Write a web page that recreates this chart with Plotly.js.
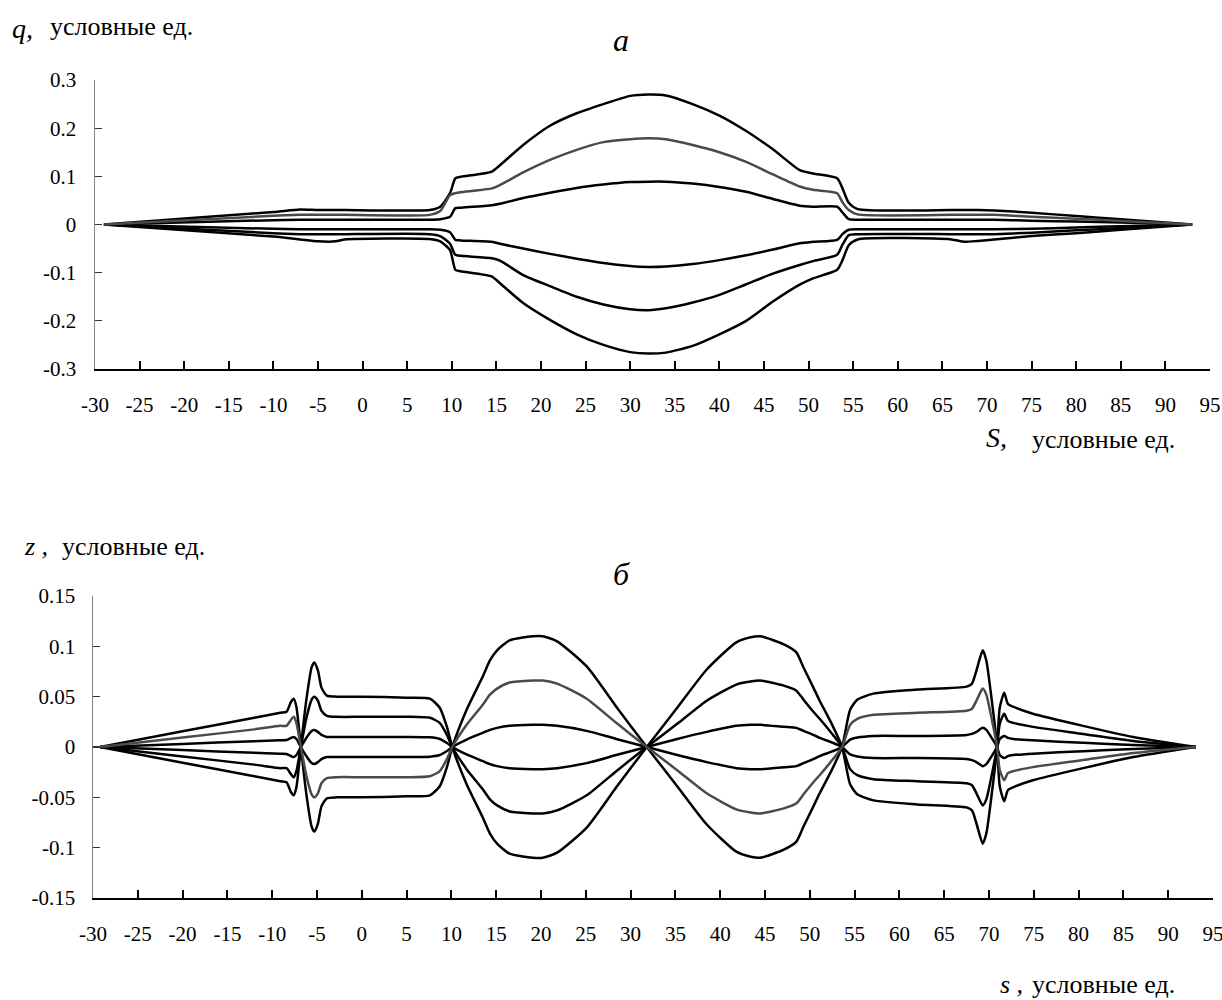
<!DOCTYPE html>
<html>
<head>
<meta charset="utf-8">
<script src="https://cdn.plot.ly/plotly-3.0.1.min.js"></script>
<style>
  html, body { margin: 0; padding: 0; background: #ffffff; }
  #chart { width: 1222px; height: 1000px; }
</style>
</head>
<body>
<div id="chart"></div>
<script>
// ---- panel "а": q(s), six profiles sampled on a common s grid ----
const S_Q = [-29, -10, -7, -5, -3, -2, 7.5, 8.7, 9.8, 10.4, 11, 14.5, 15.4, 18, 21, 24, 27, 30, 32, 34, 37, 40, 43, 46, 49, 50.5, 53.2, 53.8, 54.5, 55.5, 66, 67.5, 69, 70.8, 75, 80, 85, 93];

const Q1 = [0, 0.026, 0.031, 0.030, 0.030, 0.030, 0.030, 0.037, 0.065, 0.096, 0.099, 0.110, 0.123, 0.165, 0.205, 0.231, 0.250, 0.267, 0.270, 0.268, 0.250, 0.226, 0.194, 0.156, 0.113, 0.106, 0.096, 0.075, 0.045, 0.032, 0.030, 0.030, 0.030, 0.029, 0.0245, 0.0175, 0.011, 0];
const Q2 = [0, 0.018, 0.020, 0.020, 0.020, 0.020, 0.020, 0.028, 0.061, 0.065, 0.067, 0.075, 0.082, 0.108, 0.134, 0.155, 0.171, 0.177, 0.179, 0.177, 0.165, 0.150, 0.130, 0.104, 0.079, 0.072, 0.065, 0.046, 0.030, 0.021, 0.020, 0.020, 0.020, 0.020, 0.016, 0.012, 0.0075, 0];
const Q3 = [0, 0.009, 0.010, 0.010, 0.010, 0.010, 0.010, 0.011, 0.016, 0.034, 0.035, 0.040, 0.043, 0.055, 0.066, 0.076, 0.083, 0.088, 0.089, 0.089, 0.085, 0.078, 0.068, 0.053, 0.039, 0.037, 0.037, 0.025, 0.011, 0.010, 0.010, 0.010, 0.010, 0.010, 0.008, 0.006, 0.004, 0];
const Q4 = [0, -0.009, -0.010, -0.010, -0.010, -0.010, -0.010, -0.011, -0.016, -0.032, -0.033, -0.036, -0.040, -0.050, -0.061, -0.071, -0.080, -0.086, -0.088, -0.087, -0.082, -0.074, -0.064, -0.052, -0.039, -0.036, -0.032, -0.020, -0.011, -0.010, -0.010, -0.010, -0.010, -0.010, -0.009, -0.006, -0.0037, 0];
const Q5 = [0, -0.018, -0.020, -0.020, -0.020, -0.020, -0.020, -0.024, -0.040, -0.063, -0.065, -0.070, -0.075, -0.105, -0.128, -0.150, -0.166, -0.176, -0.178, -0.174, -0.162, -0.146, -0.124, -0.102, -0.084, -0.076, -0.063, -0.042, -0.022, -0.020, -0.020, -0.020, -0.020, -0.020, -0.017, -0.012, -0.0075, 0];
const Q6 = [0, -0.025, -0.031, -0.035, -0.035, -0.031, -0.030, -0.035, -0.053, -0.094, -0.097, -0.108, -0.122, -0.163, -0.198, -0.228, -0.250, -0.265, -0.268, -0.266, -0.252, -0.228, -0.200, -0.160, -0.125, -0.112, -0.094, -0.074, -0.043, -0.031, -0.031, -0.036, -0.034, -0.031, -0.024, -0.018, -0.011, 0];

// ---- panel "б": z(s) ----
const S_Z = [-29.2, -20, -12, -9.1, -8.4, -7.9, -7.6, -7.3, -6.8, -6.2, -5.6, -5.3, -4.9, -4.5, -3.9, -2.8, 0, 5, 7.6, 8.7, 9.5, 10.1, 11.7, 13.5, 14.3, 15.1, 16.5, 19.1, 20.2, 21.8, 25.1, 28.4, 31.8, 35.2, 38.5, 41.8, 43.4, 44.5, 47.1, 48.5, 49.3, 50.4, 51.1, 52.5, 53.6, 54.5, 55.3, 57.1, 62, 67.5, 68.1, 68.6, 69.3, 69.7, 70.3, 70.9, 71.2, 71.7, 72.1, 72.7, 74.9, 80.5, 86.1, 93.1];

const Z1 = [0, 0.0156, 0.029, 0.034, 0.035, 0.045, 0.048, 0.040, 0, -0.046, -0.079, -0.084, -0.076, -0.059, -0.051, -0.050, -0.050, -0.049, -0.048, -0.039, -0.020, 0, 0.037, 0.070, 0.086, 0.096, 0.106, 0.110, 0.110, 0.105, 0.080, 0.040, 0, -0.039, -0.077, -0.104, -0.109, -0.110, -0.102, -0.094, -0.079, -0.059, -0.046, -0.022, 0, 0.037, 0.047, 0.053, 0.057, 0.060, 0.063, 0.076, 0.096, 0.086, 0.047, 0, -0.039, -0.054, -0.043, -0.040, -0.033, -0.021, -0.010, 0];
const Z2 = [0, 0.0094, 0.0175, 0.021, 0.021, 0.027, 0.030, 0.024, 0, -0.028, -0.047, -0.050, -0.046, -0.036, -0.031, -0.030, -0.030, -0.030, -0.029, -0.024, -0.012, 0, 0.022, 0.042, 0.052, 0.058, 0.064, 0.066, 0.066, 0.063, 0.048, 0.024, 0, -0.023, -0.046, -0.062, -0.065, -0.066, -0.061, -0.056, -0.047, -0.035, -0.028, -0.013, 0, 0.022, 0.028, 0.032, 0.034, 0.036, 0.038, 0.046, 0.058, 0.052, 0.028, 0, -0.023, -0.033, -0.026, -0.024, -0.020, -0.013, -0.006, 0];
const Z3 = [0, 0.0031, 0.0058, 0.0068, 0.007, 0.009, 0.010, 0.008, 0, -0.009, -0.016, -0.017, -0.015, -0.012, -0.010, -0.010, -0.010, -0.010, -0.0096, -0.008, -0.004, 0, 0.0074, 0.014, 0.017, 0.019, 0.021, 0.022, 0.022, 0.021, 0.016, 0.008, 0, -0.008, -0.015, -0.021, -0.022, -0.022, -0.020, -0.019, -0.016, -0.012, -0.009, -0.0044, 0, 0.0074, 0.0094, 0.011, 0.011, 0.012, 0.013, 0.015, 0.019, 0.017, 0.009, 0, -0.008, -0.011, -0.009, -0.008, -0.0066, -0.0042, -0.002, 0];
const Z4 = [0, -0.0031, -0.0058, -0.0068, -0.007, -0.009, -0.010, -0.008, 0, 0.009, 0.016, 0.017, 0.015, 0.012, 0.010, 0.010, 0.010, 0.010, 0.0096, 0.008, 0.004, 0, -0.0074, -0.014, -0.017, -0.019, -0.021, -0.022, -0.022, -0.021, -0.016, -0.008, 0, 0.008, 0.015, 0.021, 0.022, 0.022, 0.020, 0.019, 0.016, 0.012, 0.009, 0.0044, 0, -0.0074, -0.0094, -0.011, -0.011, -0.012, -0.013, -0.015, -0.019, -0.017, -0.009, 0, 0.008, 0.011, 0.009, 0.008, 0.0066, 0.0042, 0.002, 0];
const Z5 = [0, -0.0094, -0.0175, -0.021, -0.021, -0.027, -0.030, -0.024, 0, 0.028, 0.047, 0.050, 0.046, 0.036, 0.031, 0.030, 0.030, 0.030, 0.029, 0.024, 0.012, 0, -0.022, -0.042, -0.052, -0.058, -0.064, -0.066, -0.066, -0.063, -0.048, -0.024, 0, 0.023, 0.046, 0.062, 0.065, 0.066, 0.061, 0.056, 0.047, 0.035, 0.028, 0.013, 0, -0.022, -0.028, -0.032, -0.034, -0.036, -0.038, -0.046, -0.058, -0.052, -0.028, 0, 0.023, 0.033, 0.026, 0.024, 0.020, 0.013, 0.006, 0];
const Z6 = [0, -0.0156, -0.029, -0.034, -0.035, -0.045, -0.048, -0.040, 0, 0.046, 0.079, 0.084, 0.076, 0.059, 0.051, 0.050, 0.050, 0.049, 0.048, 0.039, 0.020, 0, -0.037, -0.070, -0.086, -0.096, -0.106, -0.110, -0.110, -0.105, -0.080, -0.040, 0, 0.039, 0.077, 0.104, 0.109, 0.110, 0.102, 0.094, 0.079, 0.059, 0.046, 0.022, 0, -0.037, -0.047, -0.053, -0.057, -0.060, -0.063, -0.076, -0.096, -0.086, -0.047, 0, 0.039, 0.054, 0.043, 0.040, 0.033, 0.021, 0.010, 0];

// ---- axis ticks ----
const S_TICKS = [-30, -25, -20, -15, -10, -5, 0, 5, 10, 15, 20, 25, 30, 35, 40, 45, 50, 55, 60, 65, 70, 75, 80, 85, 90, 95];
const S_TICK_TEXT = ['-30', '-25', '-20', '-15', '-10', '-5', '0', '5', '10', '15', '20', '25', '30', '35', '40', '45', '50', '55', '60', '65', '70', '75', '80', '85', '90', '95'];
const Q_TICKS = [-0.3, -0.2, -0.1, 0, 0.1, 0.2, 0.3];
const Q_TICK_TEXT = ['-0.3', '-0.2', '-0.1', '0', '0.1', '0.2', '0.3'];
const Z_TICKS = [-0.15, -0.1, -0.05, 0, 0.05, 0.1, 0.15];
const Z_TICK_TEXT = ['-0.15', '-0.1', '-0.05', '0', '0.05', '0.1', '0.15'];

// ---- styling ----
const SERIF = 'Liberation Serif';
const BLACK = '#000000';
const GREY = '#4a4a4a';
const W = 1222, H = 1000;
const M = { l: 93, r: 9, t: 80, b: 102 };
const PW = W - M.l - M.r, PH = H - M.t - M.b;
const px = x => (x - M.l) / PW;            // page pixel -> paper x
const py = y => (H - M.b - y) / PH;        // page pixel -> paper y

function line(x, y, color, xa, ya) {
  return {
    type: 'scatter', mode: 'lines', x: x, y: y,
    xaxis: xa, yaxis: ya,
    line: { color: color, width: 2.5, shape: 'spline', smoothing: 0.6 },
    hoverinfo: 'skip', showlegend: false
  };
}

const traces = [
  line(S_Q, Q1, BLACK, 'x', 'y'),
  line(S_Q, Q3, BLACK, 'x', 'y'),
  line(S_Q, Q4, BLACK, 'x', 'y'),
  line(S_Q, Q5, BLACK, 'x', 'y'),
  line(S_Q, Q6, BLACK, 'x', 'y'),
  line(S_Q, Q2, GREY, 'x', 'y'),
  line(S_Z, Z1, BLACK, 'x2', 'y2'),
  line(S_Z, Z3, BLACK, 'x2', 'y2'),
  line(S_Z, Z4, BLACK, 'x2', 'y2'),
  line(S_Z, Z5, BLACK, 'x2', 'y2'),
  line(S_Z, Z6, BLACK, 'x2', 'y2'),
  line(S_Z, Z2, GREY, 'x2', 'y2')
];

function xAxis(domain, anchor) {
  return {
    domain: domain, anchor: anchor, range: [-30, 95],
    tickmode: 'array', tickvals: S_TICKS, ticktext: S_TICK_TEXT,
    ticks: 'inside', ticklen: 8, tickwidth: 2, tickcolor: BLACK,
    ticklabelstandoff: 16, ticklabeloverflow: 'allow',
    showline: true, linecolor: BLACK, linewidth: 2,
    showgrid: false, zeroline: false,
    tickfont: { family: SERIF, size: 21, color: BLACK }
  };
}
function yAxis(domain, anchor, range, vals, text, standoff) {
  return {
    domain: domain, anchor: anchor, range: range,
    tickmode: 'array', tickvals: vals, ticktext: text,
    ticks: 'inside', ticklen: 7, tickwidth: 1.2, tickcolor: '#333333',
    ticklabelstandoff: standoff, ticklabeloverflow: 'allow',
    showline: true, linecolor: '#808080', linewidth: 1.5,
    showgrid: false, zeroline: false,
    tickfont: { family: SERIF, size: 21, color: BLACK }
  };
}

function note(text, x, y, size, italic, anchor) {
  return {
    xref: 'paper', yref: 'paper', x: px(x), y: py(y),
    xanchor: anchor || 'left', yanchor: 'middle',
    text: italic ? '<i>' + text + '</i>' : text,
    showarrow: false,
    font: { family: SERIF, size: size, color: BLACK }
  };
}

const layout = {
  width: W, height: H,
  margin: M,
  paper_bgcolor: '#ffffff', plot_bgcolor: '#ffffff',
  font: { family: SERIF, color: BLACK },
  xaxis: xAxis([px(95), px(1210)], 'y'),
  yaxis: yAxis([py(369), py(80)], 'x', [-0.3, 0.3], Q_TICKS, Q_TICK_TEXT, 13),
  xaxis2: xAxis([px(93), px(1213)], 'y2'),
  yaxis2: yAxis([py(898), py(596)], 'x2', [-0.15, 0.15], Z_TICKS, Z_TICK_TEXT, 12),
  annotations: [
    note('а', 621, 40, 32, true, 'center'),
    note('q,', 10, 28, 28, true),
    note('условные ед.', 48, 27, 26, false),
    note('S,', 984, 438, 28, true),
    note('условные ед.', 1030, 439, 26, false),
    note('б', 621, 574, 32, true, 'center'),
    note('z ,', 22, 546, 26, true),
    note('условные ед.', 60, 546, 26, false),
    note('s ,', 998, 985, 26, true),
    note('условные ед.', 1030, 985, 26, false)
  ]
};

Plotly.newPlot('chart', traces, layout, { staticPlot: true, displayModeBar: false });
</script>
</body>
</html>
